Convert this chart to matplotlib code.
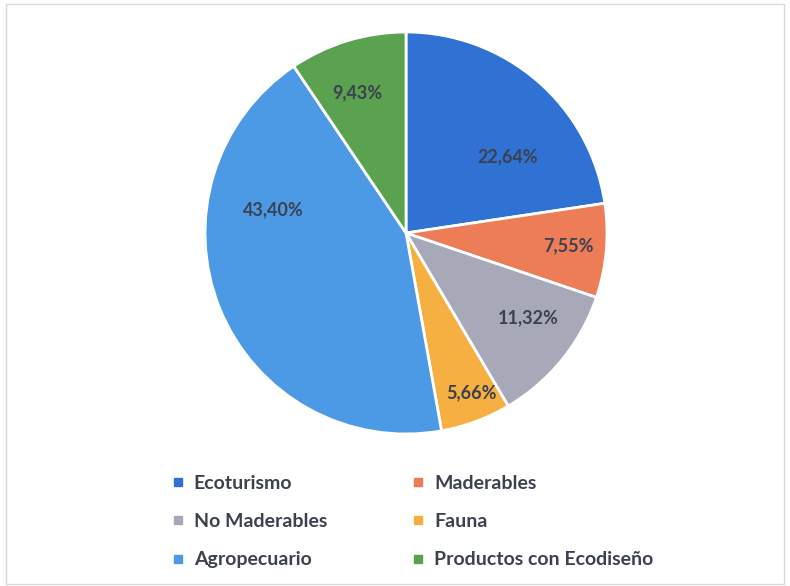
import numpy as np
import matplotlib
matplotlib.use("Agg")
import matplotlib.pyplot as plt
from matplotlib.patches import Rectangle
from matplotlib.lines import Line2D

categorias = ["Ecoturismo", "Maderables", "No Maderables", "Fauna",
              "Agropecuario", "Productos con Ecodiseño"]
porcentajes = [22.64, 7.55, 11.32, 5.66, 43.40, 9.43]
etiquetas = ["22,64%", "7,55%", "11,32%", "5,66%", "43,40%", "9,43%"]

colores = ["#2F72D4", "#EC7D57", "#A7A9B9", "#F5B041", "#4C9AE6", "#5AA150"]
# posicion de etiquetas: distancia (fraccion del radio) y desvio de angulo (grados)
dist_etq = [0.63, 0.81, 0.74, 0.86, 0.67, 0.74]
desvio_etq = [-12.3, 0.5, 4.5, 2.0, -31.9, 2.3]

plt.rcParams['font.family'] = ['Lato', 'DejaVu Sans']

fig = plt.figure(figsize=(7.9, 5.86), dpi=100)
ax = fig.add_axes([0.2595, 0.2594, 0.5089, 0.686])

wedges, _ = ax.pie(porcentajes, colors=colores, startangle=90, counterclock=False,
                   radius=1.0, wedgeprops=dict(edgecolor="white", linewidth=2))
ax.set_xlim(-1, 1)
ax.set_ylim(-1, 1)
ax.set_aspect("equal")

for w, txt, d, dv in zip(wedges, etiquetas, dist_etq, desvio_etq):
    ang = np.deg2rad((w.theta1 + w.theta2) / 2 + dv)
    ax.text(d * np.cos(ang), d * np.sin(ang), txt, ha="center", va="center",
            fontsize=13, color="#3C4150", fontweight="bold")

# leyenda: se reordena para que se lea por filas
orden = [0, 2, 4, 1, 3, 5]
handles = [Line2D([], [], marker="s", linestyle="none", markersize=6,
                  markerfacecolor=colores[i], markeredgecolor=colores[i]) for i in orden]
fig.legend(handles, [categorias[i] for i in orden], ncol=2, loc="upper left",
           bbox_to_anchor=(0.196, 0.219), frameon=False,
           handlelength=0.6, handletextpad=0.5, columnspacing=4.4,
           labelspacing=1.085, prop=dict(family=['Lato', 'DejaVu Sans'], weight="bold", size=14),
           labelcolor="#3C4150")

fig.patches.append(Rectangle((0.008, 0.004), 0.984, 0.99, transform=fig.transFigure,
                             fill=False, edgecolor="#D9D9D9", linewidth=1))

fig.savefig("out.png", dpi=100)
